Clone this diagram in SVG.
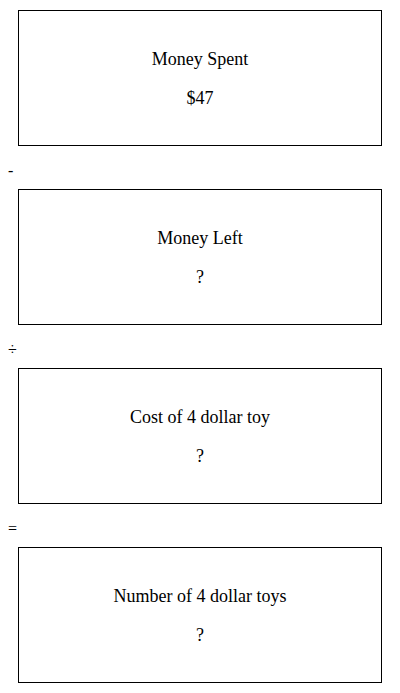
<svg xmlns="http://www.w3.org/2000/svg" width="400" height="693" viewBox="0 0 400 693">
<style>
.box{fill:#fff;stroke:#000;stroke-width:1}
.t{font-family:"Liberation Serif","Times New Roman",serif;font-size:18px;fill:#000;text-anchor:middle}
.op{font-family:"Liberation Serif","Times New Roman",serif;font-size:16px;fill:#000}
</style>
<rect width="400" height="693" fill="#fff"/>
<g id="node1">
<rect class="box" x="18.5" y="10.5" width="363" height="135"/>
<text class="t" x="200" y="65">Money Spent</text>
<text class="t" x="200" y="104">$47</text>
</g>
<g id="node2">
<rect class="box" x="18.5" y="189.5" width="363" height="135"/>
<text class="t" x="200" y="244">Money Left</text>
<text class="t" x="200" y="283">?</text>
</g>
<g id="node3">
<rect class="box" x="18.5" y="368.5" width="363" height="135"/>
<text class="t" x="200" y="423">Cost of 4 dollar toy</text>
<text class="t" x="200" y="462">?</text>
</g>
<g id="node4">
<rect class="box" x="18.5" y="547.5" width="363" height="135"/>
<text class="t" x="200" y="602">Number of 4 dollar toys</text>
<text class="t" x="200" y="641">?</text>
</g>
<g id="connectors">
<text class="op" x="8" y="176">-</text>
<text class="op" x="8" y="355">÷</text>
<text class="op" x="8" y="534">=</text>
</g>
</svg>
